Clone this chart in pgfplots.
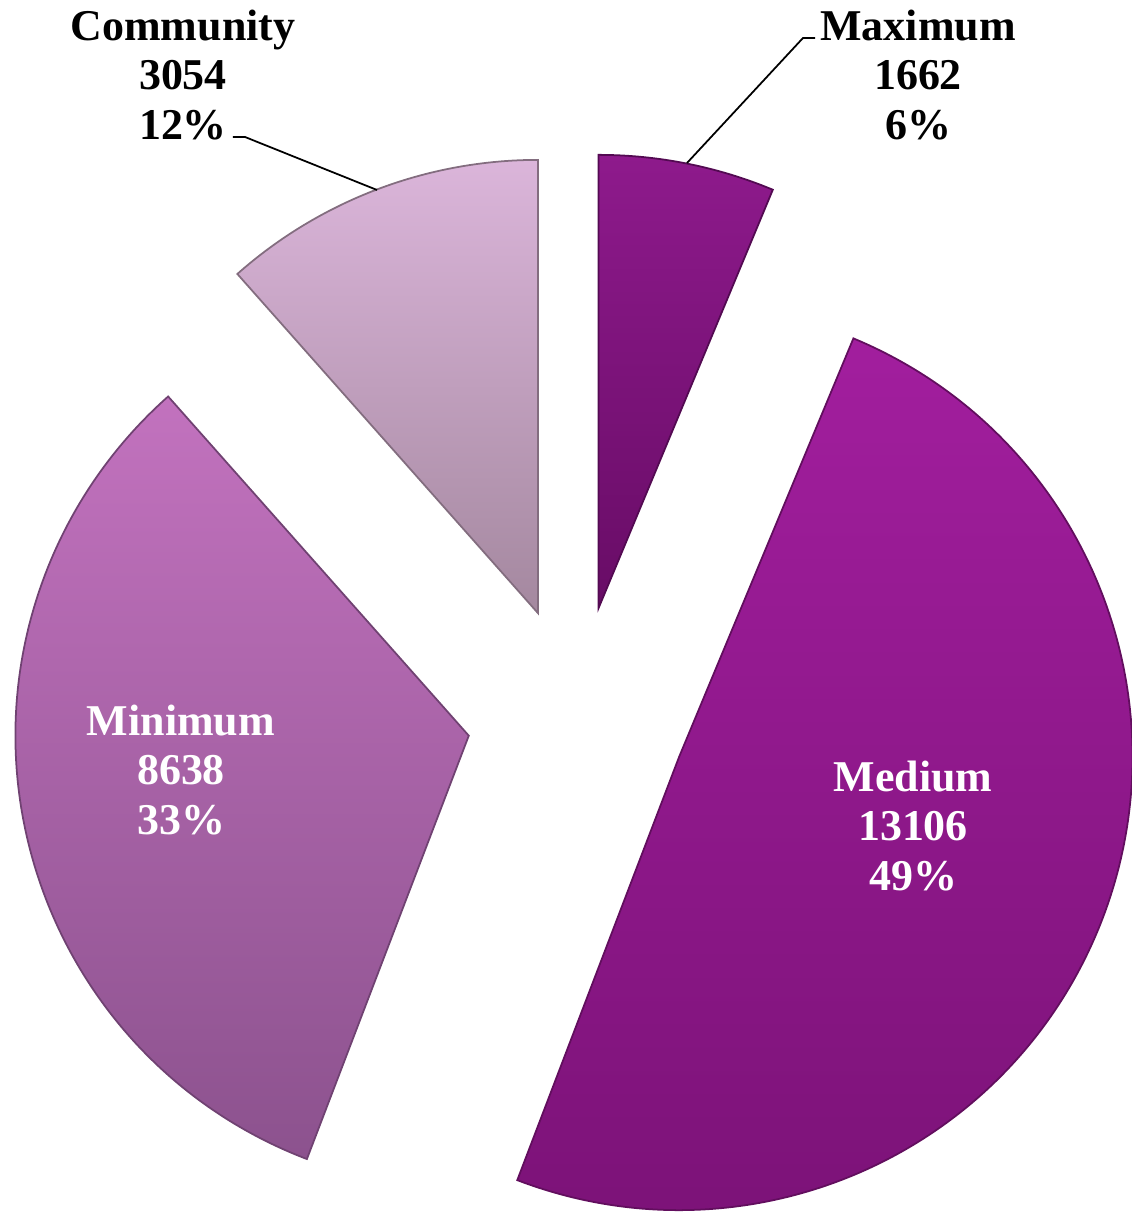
\documentclass[border=0pt]{standalone}
\usepackage{pgfplots}
\pgfplotsset{compat=1.18}
\usepackage{fontspec}
\setmainfont{Liberation Serif}
\definecolor{maxT}{HTML}{8E1A8C}\definecolor{maxB}{HTML}{680C66}
\definecolor{medT}{HTML}{A21E9E}\definecolor{medB}{HTML}{7A1276}
\definecolor{minT}{HTML}{C272BE}\definecolor{minB}{HTML}{8C528E}
\definecolor{comT}{HTML}{DBB5DA}\definecolor{comB}{HTML}{A4889F}
\begin{document}
\begin{tikzpicture}
% data
\def\vMax{1662}\def\vMed{13106}\def\vMin{8638}\def\vCom{3054}
\pgfmathsetmacro\tot{\vMax/1000+\vMed/1000+\vMin/1000+\vCom/1000}
\pgfmathsetmacro\aA{90}
\pgfmathsetmacro\aB{\aA-360*(\vMax/1000)/\tot}
\pgfmathsetmacro\aC{\aB-360*(\vMed/1000)/\tot}
\pgfmathsetmacro\aD{\aC-360*(\vMin/1000)/\tot}
\pgfmathsetmacro\aE{\aD-360*(\vCom/1000)/\tot}
\pgfmathsetmacro\mA{(\aA+\aB)/2}\pgfmathsetmacro\mB{(\aB+\aC)/2}
\pgfmathsetmacro\mC{(\aC+\aD)/2}\pgfmathsetmacro\mD{(\aD+\aE)/2}
\def\cx{577}\def\cy{497}\def\ex{110}
\pgfmathsetmacro\xA{\cx+\ex*cos(\mA)}\pgfmathsetmacro\yA{\cy+\ex*sin(\mA)}
\pgfmathsetmacro\xB{\cx+\ex*cos(\mB)}\pgfmathsetmacro\yB{\cy+\ex*sin(\mB)}
\pgfmathsetmacro\xC{\cx+\ex*cos(\mC)}\pgfmathsetmacro\yC{\cy+\ex*sin(\mC)}
\pgfmathsetmacro\xD{\cx+\ex*cos(\mD)}\pgfmathsetmacro\yD{\cy+\ex*sin(\mD)}
\def\R{4.53cm}
\begin{axis}[name=ax,x=0.01cm,y=0.01cm,xmin=0,xmax=1131,ymin=0,ymax=1213,
  hide axis,clip=false,scale only axis]
% slices
\filldraw[top color=maxT,bottom color=maxB,draw=maxB!80!black,line width=0.5pt]
  (axis cs:\xA,\yA) -- ++(\aA:\R) arc[start angle=\aA,end angle=\aB,radius=\R] -- cycle;
\filldraw[top color=medT,bottom color=medB,draw=medB!80!black,line width=0.5pt]
  (axis cs:\xB,\yB) -- ++(\aB:\R) arc[start angle=\aB,end angle=\aC,radius=\R] -- cycle;
\filldraw[top color=minT,bottom color=minB,draw=minB!80!black,line width=0.5pt]
  (axis cs:\xC,\yC) -- ++(\aC:\R) arc[start angle=\aC,end angle=\aD,radius=\R] -- cycle;
\filldraw[top color=comT,bottom color=comB,draw=comB!80!black,line width=0.5pt]
  (axis cs:\xD,\yD) -- ++(\aD:\R) arc[start angle=\aD,end angle=\aE,radius=\R] -- cycle;
% leader lines
\draw[black,line width=0.5pt] (axis cs:233,1076) -- (axis cs:245,1076) -- (axis cs:377,1023);
\draw[black,line width=0.5pt] (axis cs:687,1050) -- (axis cs:803,1175) -- (axis cs:815,1175);
% labels
\tikzset{lab/.style={align=center,font=\fontsize{12.5}{14.2}\selectfont\bfseries,inner sep=0pt}}
\node[lab,black] at (axis cs:183,1138) {Community\\3054\\12\%};
\node[lab,black] at (axis cs:918,1138) {Maximum\\1662\\6\%};
\node[lab,white] at (axis cs:181,443) {Minimum\\8638\\33\%};
\node[lab,white] at (axis cs:913,387) {Medium\\13106\\49\%};
\end{axis}
\pgfresetboundingbox
\path (ax.south west) rectangle (ax.north east);
\end{tikzpicture}
\end{document}
